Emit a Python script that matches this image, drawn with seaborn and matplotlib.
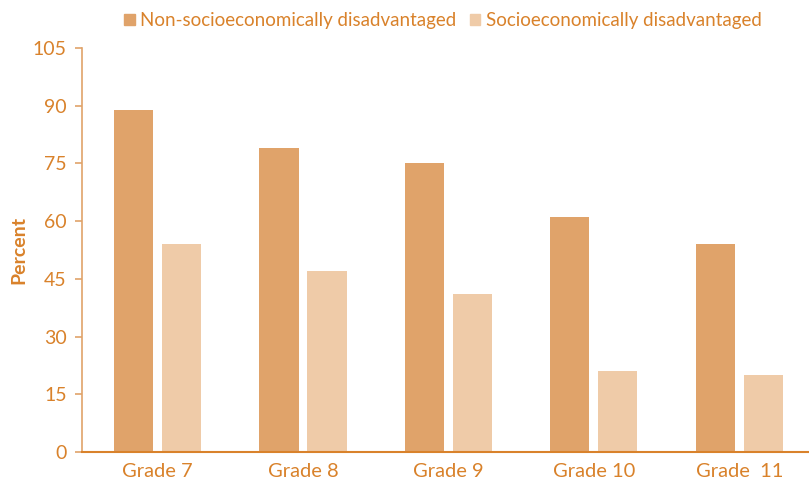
import pandas as pd
import matplotlib.pyplot as plt
import seaborn as sns

grades = ['Grade 7', 'Grade 8', 'Grade 9', 'Grade 10', 'Grade  11']
non_disadv = [89, 79, 75, 61, 54]
disadv = [54, 47, 41, 21, 20]
groups = ['Non-socioeconomically disadvantaged', 'Socioeconomically disadvantaged']

text_col = '#d9822b'
colors = ['#e0a36a', '#efcba8']

df = pd.DataFrame({
    'grade': grades * 2,
    'value': non_disadv + disadv,
    'group': [groups[0]] * 5 + [groups[1]] * 5,
})

sns.set_style('white')
plt.rcParams['font.family'] = ['Lato', 'DejaVu Sans']

fig = plt.figure(figsize=(8.09, 4.83), dpi=100)
ax = fig.add_axes([0.1014, 0.064, 0.8986, 0.8366])

sns.barplot(data=df, x='grade', y='value', hue='group', palette=colors,
            saturation=1, width=0.66, gap=0.18, linewidth=0, ax=ax, legend=False)

ax.set_xlim(-0.52, 4.48)
ax.set_ylim(0, 105)
ax.set_yticks(range(0, 106, 15))
ax.set_xlabel('')
ax.set_ylabel('Percent', color=text_col, fontsize=14, fontweight='bold', labelpad=4)

for s in ['top', 'right']:
    ax.spines[s].set_visible(False)
ax.spines['left'].set_color('#e0a36a')
ax.spines['bottom'].set_color('#d9822b')
ax.spines['left'].set_linewidth(1.2)
ax.spines['bottom'].set_linewidth(1.5)

ax.tick_params(axis='y', colors='#e0a36a', labelcolor=text_col, length=5, width=1.2,
               labelsize=14, left=True, pad=6)
ax.tick_params(axis='x', length=0, labelcolor=text_col, labelsize=14.5, pad=8)

# legend on top
handles = [plt.Rectangle((0, 0), 1, 1, color=c) for c in colors]
fig.legend(handles, groups, loc='upper left', bbox_to_anchor=(0.133, 1.01), ncol=2,
           frameon=False, fontsize=13.5, labelcolor=text_col, handlelength=0.55,
           handleheight=0.55, handletextpad=0.3, columnspacing=0.7)

plt.savefig('out.png', dpi=100)
